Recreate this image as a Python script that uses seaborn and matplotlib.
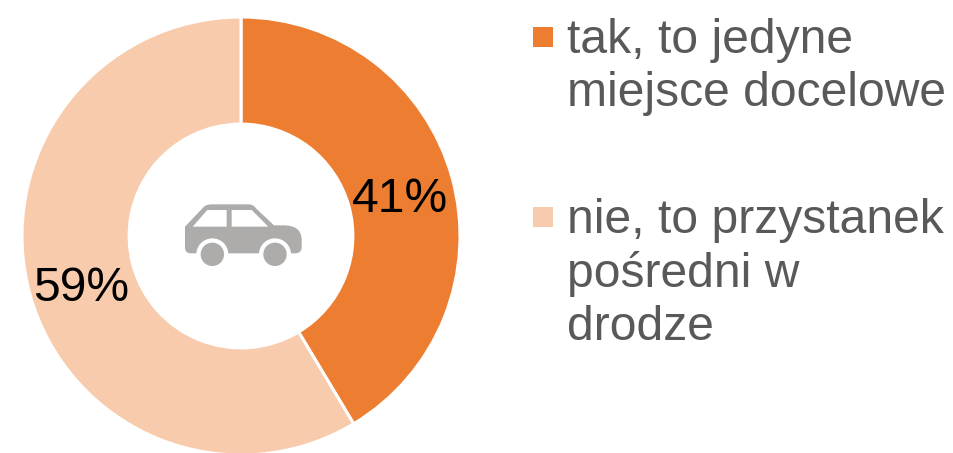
import matplotlib
matplotlib.use("Agg")
import matplotlib.pyplot as plt
import seaborn as sns
from matplotlib.patches import Rectangle, Circle, Polygon, PathPatch
from matplotlib.path import Path

categories = ["tak, to jedyne\nmiejsce docelowe", "nie, to przystanek\npośredni w\ndrodze"]
values = [41.4, 58.6]
colors = ["#ED7D31", "#F8CBAD"]
text_color = "#595959"
car_color = "#AEABAB"

sns.set_theme(style="white")
sns.set_palette(colors)
plt.rcParams["font.family"] = ["Liberation Sans", "DejaVu Sans"]

W, H = 954, 453
fig = plt.figure(figsize=(W / 100, H / 100), dpi=100, facecolor="white")

cx, cy, R = 241, 236, 219
ax = fig.add_axes([(cx - R) / W, 1 - (cy + R) / H, 2 * R / W, 2 * R / H])
wedges, _, autotexts = ax.pie(
    values, colors=sns.color_palette(), startangle=90, counterclock=False, radius=1,
    wedgeprops=dict(width=0.489, edgecolor="white", linewidth=2.2),
    autopct="%.0f%%", pctdistance=0.755,
    textprops=dict(fontsize=34.6, color="black"),
)
for t in autotexts:
    x, y = t.get_position()
    t.set_position((x, y - 0.036))
ax.set_xlim(-1, 1)
ax.set_ylim(-1, 1)
ax.set_aspect("equal")

ov = fig.add_axes([0, 0, 1, 1], facecolor="none")
ov.set_xlim(0, W)
ov.set_ylim(H, 0)
ov.axis("off")

# legend
for y_sq, y_txt, label, col in zip([37, 217], [39, 219], categories, colors):
    ov.add_patch(Rectangle((533, y_sq - 10), 20, 20, fc=col, ec="none"))
    ov.text(567, y_txt - 21, label, fontsize=34.6, color=text_color, va="top", ha="left",
            linespacing=1.22)

# car icon (zoom-crop pixel outline mapped to figure pixels)
def z(x, y):
    return (170 + x / 3, 190 + y / 3)

M, L, C = Path.MOVETO, Path.LINETO, Path.CURVE3
body = [((45, 110), M), ((100, 52), L), ((108, 43), C), ((125, 43), C), ((235, 43), L),
        ((250, 43), C), ((258, 55), C), ((312, 106), L), ((345, 106), L), ((395, 108), C),
        ((395, 150), C), ((395, 172), L), ((395, 190), C), ((375, 190), C), ((62, 190), L),
        ((45, 190), C), ((45, 172), C), ((45, 110), L)]
ov.add_patch(PathPatch(Path([z(*p) for p, _ in body], [c for _, c in body]), fc=car_color, ec="none"))
for win in ([(68, 110), (112, 60), (170, 60), (170, 110)], [(185, 60), (245, 60), (295, 110), (185, 110)]):
    ov.add_patch(Polygon([z(*p) for p in win], closed=True, fc="white", ec="none"))
for wx in (127, 315):
    ov.add_patch(Circle(z(wx, 193), 16, fc="white", ec="none"))
    ov.add_patch(Circle(z(wx, 193), 11.7, fc=car_color, ec="none"))

fig.savefig("out.png", dpi=100, facecolor="white")
